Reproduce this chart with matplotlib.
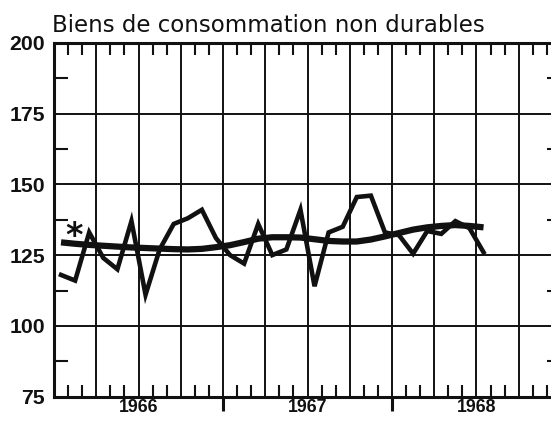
import numpy as np
import matplotlib
matplotlib.use('Agg')
import matplotlib.pyplot as plt

# monthly index, Jan 1966 = 0 (points plotted at mid-month)
months = np.arange(31) + 0.5
index_values = [118, 116, 133, 124, 120, 137, 111, 127, 136, 138, 141, 131,
                125, 122, 136, 125, 127, 141, 114, 133, 135, 145.5, 146, 133,
                132, 125.5, 133.5, 132.5, 137, 134.5, 126]
trend_values = [129.5, 129.0, 128.6, 128.3, 128.0, 127.7, 127.5, 127.3, 127.1, 127.0,
                127.2, 127.8, 128.5, 129.6, 130.8, 131.3, 131.3, 131.2, 130.6, 130.0,
                129.8, 129.8, 130.5, 131.6, 132.8, 134.0, 134.8, 135.3, 135.6, 135.3, 134.8]
years = ['1966', '1967', '1968']
y_ticks = [75, 100, 125, 150, 175, 200]
title = 'Biens de consommation non durables'

ink = '#111111'
fig = plt.figure(figsize=(5.51, 4.22), dpi=100)
ax = fig.add_axes([54 / 551, 25.3 / 422, 507 / 551, 354 / 422])

ax.plot(months, index_values, color=ink, lw=3.3, solid_joinstyle='miter', zorder=3)
ax.plot(months, trend_values, color=ink, lw=4.5, solid_capstyle='butt', zorder=3)
ax.text(1.4, 131.5, '*', fontsize=24, fontweight='bold', color=ink,
        ha='center', va='center', family='DejaVu Sans')

ax.set_xlim(0.25, 36)
ax.set_ylim(75, 200)

for s in ax.spines.values():
    s.set_linewidth(2.2)
    s.set_color(ink)

# quarter grid, month ticks
ax.set_xticks(np.arange(0, 37, 3))
ax.set_xticks([m for m in range(1, 36) if m % 3 != 0], minor=True)
ax.tick_params(axis='x', which='major', length=0, labelbottom=False)
ax.tick_params(axis='x', which='minor', direction='in', length=8.5, width=1.5,
               top=True, bottom=True, color=ink)
ax.set_yticks(y_ticks)
ax.set_yticks(np.arange(87.5, 200, 25), minor=True)
ax.tick_params(axis='y', which='major', length=0, pad=6.5, labelsize=15.3, labelcolor=ink)
ax.tick_params(axis='y', which='minor', direction='in', length=10, width=1.5,
               left=True, right=True, color=ink)
for lab in ax.get_yticklabels():
    lab.set_family(['Liberation Sans Narrow', 'Liberation Sans'])
    lab.set_fontweight('bold')
ax.grid(True, which='major', color=ink, lw=1.4)

# year boundaries and labels
sec = ax.secondary_xaxis('bottom')
sec.set_xticks([12, 24, 36])
sec.set_xticks([6, 18, 30], labels=years, minor=True)
sec.tick_params(which='major', direction='out', length=10, width=2.2, color=ink, labelbottom=False)
sec.tick_params(which='minor', length=0, pad=1.5, labelsize=12.8, labelcolor=ink)
sec.spines['bottom'].set_visible(False)
for lab in sec.get_xticklabels(minor=True):
    lab.set_family('Liberation Sans')
    lab.set_fontweight('bold')

fig.text(52 / 551, 1 - 31.6 / 422, title, fontsize=16.5, color=ink,
         ha='left', va='baseline', family='DejaVu Sans')

fig.savefig('out.png', dpi=100)
